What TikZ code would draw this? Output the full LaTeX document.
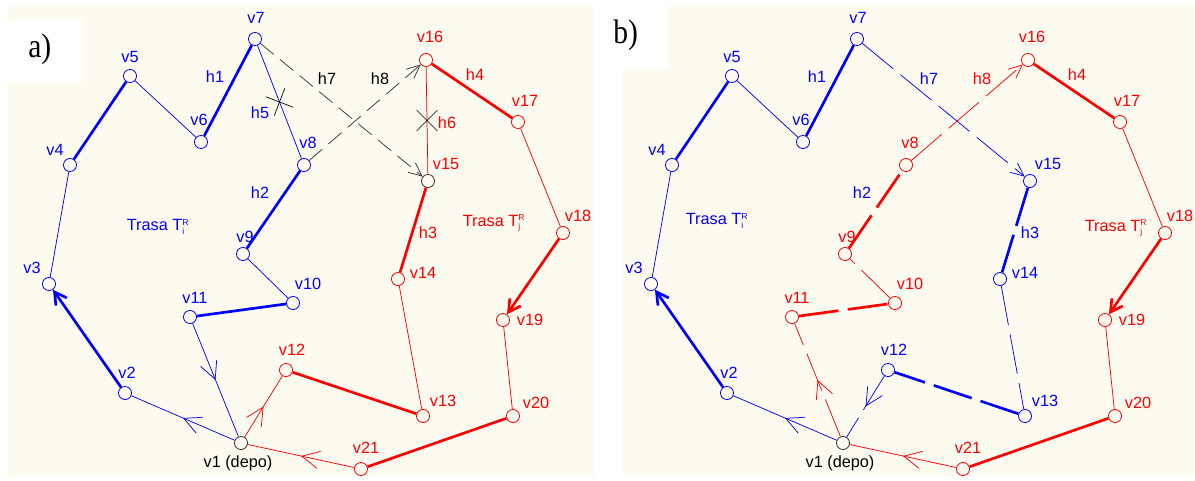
\documentclass[tikz,border=0pt]{standalone}
\usepackage{fontspec}
\setmainfont{Liberation Sans}
\newfontfamily\panelfont{Liberation Serif}
\usetikzlibrary{arrows.meta, positioning, calc, shapes.misc, decorations.markings}
\definecolor{paper}{HTML}{FDFBF0}
\definecolor{routeblue}{HTML}{0000FF}
\definecolor{routered}{HTML}{FF0000}
\definecolor{depogray}{HTML}{333333}
\newcommand{\tsup}[2]{T$^{\mbox{\fontsize{6.5}{7}\selectfont #1}}_{\mbox{\fontsize{6.5}{7}\selectfont #2}}$}

\begin{document}
\begin{tikzpicture}[x=0.75pt, y=-0.75pt]
    \tikzstyle{vtx} = [circle, draw, fill=paper, minimum size=9.8pt, inner sep=0pt, line width=0.6pt]
    \tikzstyle{bvtx} = [vtx, draw=routeblue]
    \tikzstyle{rvtx} = [vtx, draw=routered]
    \tikzstyle{kvtx} = [vtx, draw=depogray]
    \tikzstyle{lbl} = [inner sep=0pt, font=\fontsize{12.2}{14}\selectfont]
    \tikzstyle{blbl} = [lbl, text=routeblue]
    \tikzstyle{rlbl} = [lbl, text=routered]
    \tikzstyle{klbl} = [lbl, text=black]
    \tikzstyle{thinseg} = [line width=0.55pt]
    \tikzstyle{boldseg} = [line width=2pt]
    \tikzstyle{endarr} = [-{Straight Barb[length=9pt,width=10pt]}]
    \tikzstyle{dasharr} = [-{Straight Barb[length=10pt,width=9pt]}]
    \tikzstyle{midarr} = [postaction={decorate}, decoration={markings, mark=at position 0.5 with {\arrow{Straight Barb[length=13pt,width=13pt]}}}]
    \tikzstyle{dashshort} = [dash pattern=on 13pt off 6pt]
    \tikzstyle{dashlong} = [dash pattern=on 30pt off 7pt]
    \tikzstyle{xmark} = [draw=black, cross out, minimum size=15pt, inner sep=0pt, line width=0.5pt]
    \tikzstyle{panel} = [inner sep=0pt, font=\panelfont\fontsize{25.5}{28}\selectfont]

    % paper
    \useasboundingbox (0,0) rectangle (1195,480);
    \fill [paper] (8,6) rectangle (594,476);
    \fill [white] (8,20) rectangle (82,83);
    \fill [paper] (623,6) rectangle (1195,476);
    \fill [white] (600,0) rectangle (668,69);
    \node (tagA) [panel, anchor=base west] at (28,57) {\scalebox{0.87}[1]{a)}};
    \node (tagB) [panel, anchor=base west] at (613,43) {\scalebox{0.87}[1]{b)}};

    % ---- a) ----
    \begin{scope}
        \node (v1a) [kvtx] at (241,443) {};
        \node (v2a) [bvtx] at (125,393) {};
        \node (v3a) [bvtx] at (49,284) {};
        \node (v4a) [bvtx] at (70,165) {};
        \node (v5a) [bvtx] at (130,76) {};
        \node (v6a) [bvtx] at (201,142) {};
        \node (v7a) [bvtx] at (255,39) {};
        \node (v8a) [bvtx] at (304,165) {};
        \node (v9a) [bvtx] at (243,254) {};
        \node (v10a) [bvtx] at (293,303) {};
        \node (v11a) [bvtx] at (190,317) {};
        \node (v12a) [rvtx] at (286,370) {};
        \node (v13a) [rvtx] at (423,416) {};
        \node (v14a) [rvtx] at (398,279) {};
        \node (v15a) [kvtx] at (428,181) {};
        \node (v16a) [rvtx] at (426,60) {};
        \node (v17a) [rvtx] at (518,122) {};
        \node (v18a) [rvtx] at (563,233) {};
        \node (v19a) [rvtx] at (503,320) {};
        \node (v20a) [rvtx] at (513,416) {};
        \node (v21a) [rvtx] at (361,469) {};

        \node (t1a) [klbl] at (238,463) {v1 (depo)};
        \node (t2a) [blbl] at (127,373) {v2};
        \node (t3a) [blbl] at (32,268) {v3};
        \node (t4a) [blbl] at (55,150) {v4};
        \node (t5a) [blbl] at (130,57) {v5};
        \node (t6a) [blbl] at (199,120) {v6};
        \node (t7a) [blbl] at (256,18) {v7};
        \node (t8a) [blbl] at (308,143) {v8};
        \node (t9a) [blbl] at (245,237) {v9};
        \node (t10a) [blbl] at (308,284) {v10};
        \node (t11a) [blbl] at (195,298) {v11};
        \node (t12a) [rlbl] at (292,350) {v12};
        \node (t13a) [rlbl] at (443,401) {v13};
        \node (t14a) [rlbl] at (423,273) {v14};
        \node (t15a) [rlbl] at (446,164) {v15};
        \node (t16a) [rlbl] at (430,37) {v16};
        \node (t17a) [rlbl] at (525,101) {v17};
        \node (t18a) [rlbl] at (578,216) {v18};
        \node (t19a) [rlbl] at (530,320) {v19};
        \node (t20a) [rlbl] at (536,403) {v20};
        \node (t21a) [rlbl] at (366,448) {v21};

        % blue route
        \draw [thinseg, routeblue, midarr] (v1a) -- (v2a);
        \draw [boldseg, routeblue, endarr] (v2a) -- (v3a);
        \draw [thinseg, routeblue] (v3a) -- (v4a);
        \draw [boldseg, routeblue] (v4a) -- (v5a);
        \draw [thinseg, routeblue] (v5a) -- (v6a);
        \draw [boldseg, routeblue] (v6a) -- (v7a);
        \draw [thinseg, routeblue] (v7a) -- (v8a);
        \draw [boldseg, routeblue] (v8a) -- (v9a);
        \draw [thinseg, routeblue] (v9a) -- (v10a);
        \draw [boldseg, routeblue] (v10a) -- (v11a);
        \draw [thinseg, routeblue, midarr] (v11a) -- (v1a);
        % red route
        \draw [thinseg, routered, midarr] (v1a) -- (v12a);
        \draw [boldseg, routered] (v12a) -- (v13a);
        \draw [thinseg, routered] (v13a) -- (v14a);
        \draw [boldseg, routered] (v14a) -- (v15a);
        \draw [thinseg, routered] (v15a) -- (v16a);
        \draw [boldseg, routered] (v16a) -- (v17a);
        \draw [thinseg, routered] (v17a) -- (v18a);
        \draw [boldseg, routered, endarr] (v18a) -- (v19a);
        \draw [thinseg, routered] (v19a) -- (v20a);
        \draw [boldseg, routered] (v20a) -- (v21a);
        \draw [thinseg, routered, midarr] (v21a) -- (v1a);
        % exchange
        \draw [thinseg, depogray, dashshort, dasharr] (v7a) -- (v15a);
        \draw [thinseg, depogray, dashshort, dasharr] (v8a) -- (v16a);
        \node (x5a) [xmark, rotate=-66] at ($(v7a)!0.5!(v8a)$) {};
        \node (x6a) [xmark] at ($(v15a)!0.5!(v16a)$) {};

        \node (h1a) [blbl] at (215,77) {h1};
        \node (h5a) [blbl] at (260,113) {h5};
        \node (h2a) [blbl] at (260,193) {h2};
        \node (h7a) [klbl] at (327,79) {h7};
        \node (h8a) [klbl] at (380,79) {h8};
        \node (h4a) [rlbl] at (475,75) {h4};
        \node (h6a) [rlbl] at (447,123) {h6};
        \node (h3a) [rlbl] at (428,233) {h3};
        \node (ti) [blbl] at (158,227) {Trasa \tsup{R}{i}};
        \node (tj) [rlbl] at (494,223) {Trasa \tsup{R}{j}};
    \end{scope}

    % ---- b) ----
    \begin{scope}[shift={(602,0)}]
        \node (v1b) [kvtx] at (241,443) {};
        \node (v2b) [bvtx] at (125,393) {};
        \node (v3b) [bvtx] at (49,284) {};
        \node (v4b) [bvtx] at (70,165) {};
        \node (v5b) [bvtx] at (130,76) {};
        \node (v6b) [bvtx] at (201,142) {};
        \node (v7b) [bvtx] at (255,39) {};
        \node (v8b) [rvtx] at (304,165) {};
        \node (v9b) [rvtx] at (243,254) {};
        \node (v10b) [rvtx] at (293,303) {};
        \node (v11b) [rvtx] at (190,317) {};
        \node (v12b) [bvtx] at (286,370) {};
        \node (v13b) [bvtx] at (423,416) {};
        \node (v14b) [bvtx] at (398,279) {};
        \node (v15b) [bvtx] at (428,181) {};
        \node (v16b) [rvtx] at (426,60) {};
        \node (v17b) [rvtx] at (518,122) {};
        \node (v18b) [rvtx] at (563,233) {};
        \node (v19b) [rvtx] at (503,320) {};
        \node (v20b) [rvtx] at (513,416) {};
        \node (v21b) [rvtx] at (361,469) {};

        \node (t1b) [klbl] at (238,463) {v1 (depo)};
        \node (t2b) [blbl] at (127,373) {v2};
        \node (t3b) [blbl] at (32,268) {v3};
        \node (t4b) [blbl] at (55,150) {v4};
        \node (t5b) [blbl] at (130,57) {v5};
        \node (t6b) [blbl] at (199,120) {v6};
        \node (t7b) [blbl] at (256,18) {v7};
        \node (t8b) [rlbl] at (308,143) {v8};
        \node (t9b) [rlbl] at (245,237) {v9};
        \node (t10b) [rlbl] at (308,284) {v10};
        \node (t11b) [rlbl] at (195,298) {v11};
        \node (t12b) [blbl] at (292,350) {v12};
        \node (t13b) [blbl] at (443,401) {v13};
        \node (t14b) [blbl] at (423,273) {v14};
        \node (t15b) [blbl] at (446,164) {v15};
        \node (t16b) [rlbl] at (430,37) {v16};
        \node (t17b) [rlbl] at (525,101) {v17};
        \node (t18b) [rlbl] at (578,216) {v18};
        \node (t19b) [rlbl] at (530,320) {v19};
        \node (t20b) [rlbl] at (536,403) {v20};
        \node (t21b) [rlbl] at (366,448) {v21};

        % blue route
        \draw [thinseg, routeblue, midarr] (v1b) -- (v2b);
        \draw [boldseg, routeblue, endarr] (v2b) -- (v3b);
        \draw [thinseg, routeblue] (v3b) -- (v4b);
        \draw [boldseg, routeblue] (v4b) -- (v5b);
        \draw [thinseg, routeblue] (v5b) -- (v6b);
        \draw [boldseg, routeblue] (v6b) -- (v7b);
        \draw [thinseg, routeblue, dashlong, dasharr] (v7b) -- (v15b);
        \draw [boldseg, routeblue, dashlong] (v15b) -- (v14b);
        \draw [thinseg, routeblue, dashlong] (v14b) -- (v13b);
        \draw [boldseg, routeblue, dashlong] (v13b) -- (v12b);
        \draw [thinseg, routeblue, dashlong, midarr] (v12b) -- (v1b);
        % red route
        \draw [thinseg, routered, dashlong, midarr] (v1b) -- (v11b);
        \draw [boldseg, routered, dashlong] (v11b) -- (v10b);
        \draw [thinseg, routered, dashlong] (v10b) -- (v9b);
        \draw [boldseg, routered, dashlong] (v9b) -- (v8b);
        \draw [thinseg, routered, dashlong, dasharr] (v8b) -- (v16b);
        \draw [boldseg, routered] (v16b) -- (v17b);
        \draw [thinseg, routered] (v17b) -- (v18b);
        \draw [boldseg, routered, endarr] (v18b) -- (v19b);
        \draw [thinseg, routered] (v19b) -- (v20b);
        \draw [boldseg, routered] (v20b) -- (v21b);
        \draw [thinseg, routered, midarr] (v21b) -- (v1b);

        \node (h1b) [blbl] at (215,77) {h1};
        \node (h7b) [blbl] at (327,79) {h7};
        \node (h8b) [rlbl] at (380,79) {h8};
        \node (h4b) [rlbl] at (475,75) {h4};
        \node (h2b) [blbl] at (260,193) {h2};
        \node (h3b) [blbl] at (428,233) {h3};
        \node (tib) [blbl] at (115,221) {Trasa \tsup{R}{i}};
        \node (tjb) [rlbl] at (514,228) {Trasa \tsup{R}{j}};
    \end{scope}
\end{tikzpicture}
\end{document}
